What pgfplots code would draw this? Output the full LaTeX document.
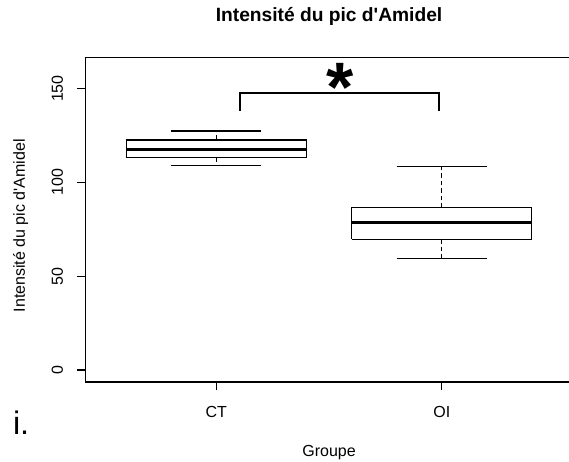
\documentclass[border=0pt]{standalone}
\usepackage{fontspec}
\setmainfont{Liberation Sans}
\newfontfamily\lsans{Liberation Sans}
\usepackage{pgfplots}
\pgfplotsset{compat=1.18}
\begin{document}
\begin{tikzpicture}
\begin{axis}[
  at={(85.6pt,80pt)}, anchor=south west,
  scale only axis, width=486.9pt, height=324.2pt,
  xmin=0.42, xmax=2.58, ymin=-6.4, ymax=166.4,
  axis line style={line width=1.1pt, black},
  xtick={1,2}, xticklabels={CT,OI},
  ytick={0,50,100,150},
  xtick pos=left, ytick pos=left,
  tick align=outside,
  major tick length=8.4pt,
  every tick/.style={black, line width=1.1pt},
  /pgf/number format/assume math mode=true,
  ticklabel style={font=\fontsize{16}{19}\selectfont, inner sep=0pt},
  yticklabel style={xshift=-13.9pt, rotate=90, anchor=south},
  xticklabel style={anchor=base, yshift=-27.3pt},
  title={Intensité du pic d{\lsans '}Amidel},
  title style={at={(axis description cs:0.5,1.0935)}, anchor=base, font=\fontsize{19.2}{23}\selectfont\bfseries, inner sep=0pt},
  ylabel={Intensité du pic d{\lsans '}Amidel},
  ylabel style={at={(axis description cs:-0.1245,0.482)}, anchor=base, font=\fontsize{16}{19}\selectfont, inner sep=0pt},
  xlabel={Groupe},
  xlabel style={at={(axis description cs:0.5,-0.2304)}, anchor=base, font=\fontsize{16}{19}\selectfont, inner sep=0pt},
  box/.style={black, line width=1.1pt, mark=none},
  whisk/.style={black, line width=1.1pt, mark=none, dash pattern=on 4.5pt off 3pt},
  med/.style={black, line width=3.2pt, mark=none},
]
% CT: lower whisker 109.0, Q1 113.2, median 117.6, Q3 122.6, upper whisker 127.4
\addplot[whisk] coordinates {(1,122.6) (1,127.4)};
\addplot[whisk] coordinates {(1,113.2) (1,109.0)};
\addplot[box] coordinates {(0.8,127.4) (1.2,127.4)};
\addplot[box] coordinates {(0.8,109.0) (1.2,109.0)};
\addplot[box] coordinates {(0.6,113.2) (1.4,113.2) (1.4,122.6) (0.6,122.6) (0.6,113.2)};
\addplot[med] coordinates {(0.6,117.6) (1.4,117.6)};
% OI: lower whisker 59.4, Q1 69.7, median 78.4, Q3 86.4, upper whisker 108.4
\addplot[whisk] coordinates {(2,86.4) (2,108.4)};
\addplot[whisk] coordinates {(2,69.7) (2,59.4)};
\addplot[box] coordinates {(1.8,108.4) (2.2,108.4)};
\addplot[box] coordinates {(1.8,59.4) (2.2,59.4)};
\addplot[box] coordinates {(1.6,69.7) (2.4,69.7) (2.4,86.4) (1.6,86.4) (1.6,69.7)};
\addplot[med] coordinates {(1.6,78.4) (2.4,78.4)};
% significance bracket
\addplot[black, line width=2.2pt, mark=none] coordinates {(1.106,138.1) (1.106,147.7) (1.988,147.7) (1.988,138.1)};
\node[font=\fontsize{70}{76}\selectfont\bfseries, inner sep=0pt] at (axis cs:1.549,150.5) {*};
\end{axis}
\node[anchor=base west, inner sep=0pt, font=\fontsize{32.5}{36}\selectfont] at (12.8pt,27pt) {i.};
\pgfresetboundingbox
\path[use as bounding box] (0,0) rectangle (569pt,462pt);
\end{tikzpicture}
\end{document}
